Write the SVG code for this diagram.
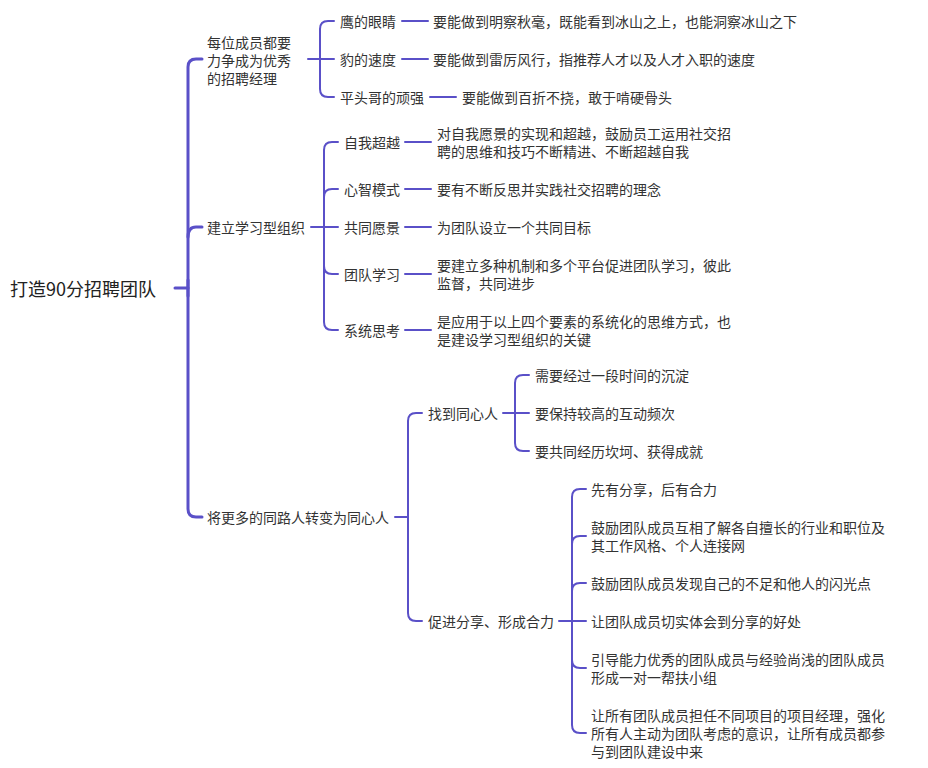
<svg xmlns="http://www.w3.org/2000/svg" width="928" height="768" viewBox="0 0 928 768">
<style>
text{font-family:"Noto Sans CJK SC","Noto Sans",sans-serif;font-size:14px;fill:#333;dominant-baseline:central}
.root{font-size:18px;fill:#222}
.c{fill:none;stroke:#5a50c8;stroke-width:2;stroke-linecap:round}
.t{stroke-width:3}
</style>
<rect width="928" height="768" fill="#fff"/>
<g id="connectors">
<path class="c t" d="M175,288 H188"/>
<path class="c t" d="M202,59 H196 Q188,59 188,67 V509 Q188,517 196,517 H202"/>
<path class="c t" d="M188,237 Q188,227 196,227 H202"/>
<path class="c t" d="M188,280 V296"/>
<!-- group 1 -->
<path class="c" d="M308,59 H334"/>
<path class="c" d="M334,21 H328 Q320,21 320,29 V89 Q320,97 328,97 H334"/>
<path class="c" d="M402,21 H428"/>
<path class="c" d="M402,59 H428"/>
<path class="c" d="M430,97 H456"/>
<!-- group 2 -->
<path class="c" d="M311,227 H338"/>
<path class="c" d="M338,142 H332 Q324,142 324,150 V322 Q324,330 332,330 H338"/>
<path class="c" d="M324,197 Q324,189 332,189 H338"/>
<path class="c" d="M324,266 Q324,274 332,274 H338"/>
<path class="c" d="M405,142 H431"/>
<path class="c" d="M405,189 H431"/>
<path class="c" d="M405,227 H431"/>
<path class="c" d="M405,274 H431"/>
<path class="c" d="M405,330 H431"/>
<!-- group 3 -->
<path class="c" d="M395,517 H408"/>
<path class="c" d="M422,413 H416 Q408,413 408,421 V613 Q408,621 416,621 H422"/>
<path class="c" d="M503,413 H529"/>
<path class="c" d="M529,375 H523 Q515,375 515,383 V443 Q515,451 523,451 H529"/>
<path class="c" d="M559,621 H586"/>
<path class="c" d="M586,489 H580 Q572,489 572,497 V725 Q572,733 580,733 H586"/>
<path class="c" d="M572,544 Q572,536 580,536 H586"/>
<path class="c" d="M572,591 Q572,583 580,583 H586"/>
<path class="c" d="M572,660 Q572,668 580,668 H586"/>
</g>
<g id="root"><text class="root" x="10" y="288">打造90分招聘团队</text></g>
<g id="n1"><text x="207" y="42">每位成员都要<tspan x="207" dy="18">力争成为优秀</tspan><tspan x="207" dy="18">的招聘经理</tspan></text></g>
<g id="n1a"><text x="340" y="21">鹰的眼睛</text></g>
<g id="n1a1"><text x="433" y="21">要能做到明察秋毫，既能看到冰山之上，也能洞察冰山之下</text></g>
<g id="n1b"><text x="340" y="59">豹的速度</text></g>
<g id="n1b1"><text x="433" y="59">要能做到雷厉风行，指推荐人才以及人才入职的速度</text></g>
<g id="n1c"><text x="340" y="97">平头哥的顽强</text></g>
<g id="n1c1"><text x="462" y="97">要能做到百折不挠，敢于啃硬骨头</text></g>
<g id="n2"><text x="207" y="227">建立学习型组织</text></g>
<g id="n2a"><text x="344" y="142">自我超越</text></g>
<g id="n2a1"><text x="437" y="133">对自我愿景的实现和超越，鼓励员工运用社交招<tspan x="437" dy="18">聘的思维和技巧不断精进、不断超越自我</tspan></text></g>
<g id="n2b"><text x="344" y="189">心智模式</text></g>
<g id="n2b1"><text x="437" y="189">要有不断反思并实践社交招聘的理念</text></g>
<g id="n2c"><text x="344" y="227">共同愿景</text></g>
<g id="n2c1"><text x="437" y="227">为团队设立一个共同目标</text></g>
<g id="n2d"><text x="344" y="274">团队学习</text></g>
<g id="n2d1"><text x="437" y="265">要建立多种机制和多个平台促进团队学习，彼此<tspan x="437" dy="18">监督，共同进步</tspan></text></g>
<g id="n2e"><text x="344" y="330">系统思考</text></g>
<g id="n2e1"><text x="437" y="321">是应用于以上四个要素的系统化的思维方式，也<tspan x="437" dy="18">是建设学习型组织的关键</tspan></text></g>
<g id="n3"><text x="207" y="517">将更多的同路人转变为同心人</text></g>
<g id="n3a"><text x="428" y="413">找到同心人</text></g>
<g id="n3a1"><text x="535" y="375">需要经过一段时间的沉淀</text></g>
<g id="n3a2"><text x="535" y="413">要保持较高的互动频次</text></g>
<g id="n3a3"><text x="535" y="451">要共同经历坎坷、获得成就</text></g>
<g id="n3b"><text x="428" y="621">促进分享、形成合力</text></g>
<g id="n3b1"><text x="591" y="489">先有分享，后有合力</text></g>
<g id="n3b2"><text x="591" y="527">鼓励团队成员互相了解各自擅长的行业和职位及<tspan x="591" dy="18">其工作风格、个人连接网</tspan></text></g>
<g id="n3b3"><text x="591" y="583">鼓励团队成员发现自己的不足和他人的闪光点</text></g>
<g id="n3b4"><text x="591" y="621">让团队成员切实体会到分享的好处</text></g>
<g id="n3b5"><text x="591" y="659">引导能力优秀的团队成员与经验尚浅的团队成员<tspan x="591" dy="18">形成一对一帮扶小组</tspan></text></g>
<g id="n3b6"><text x="591" y="715">让所有团队成员担任不同项目的项目经理，强化<tspan x="591" dy="18">所有人主动为团队考虑的意识，让所有成员都参</tspan><tspan x="591" dy="18">与到团队建设中来</tspan></text></g>
</svg>
